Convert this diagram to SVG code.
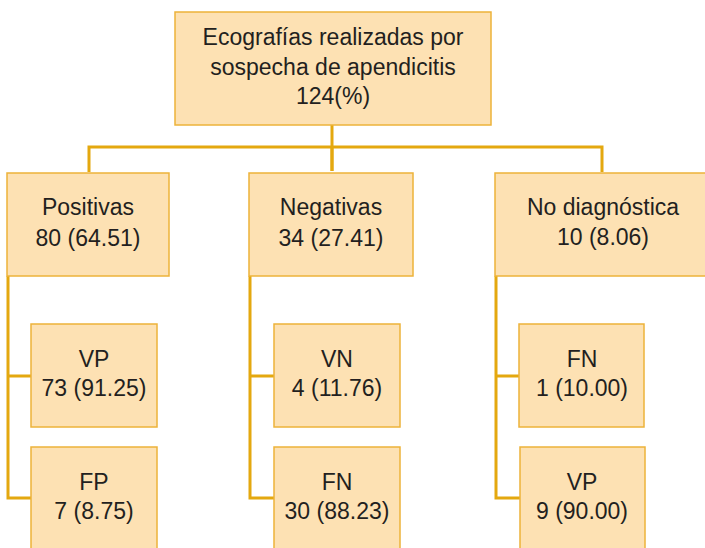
<svg xmlns="http://www.w3.org/2000/svg" width="705" height="548" viewBox="0 0 705 548">
<style>
.box{fill:#FDE1B3;stroke:#EDB33A;stroke-width:1.5}
.ln{fill:none;stroke:#E4A80F;stroke-width:3}
text{font-family:"Liberation Sans",Arial,sans-serif;font-size:23px;fill:#231F20;text-anchor:middle}
</style>
<rect width="705" height="548" fill="#fff"/>
<g id="connectors" class="ln">
<path d="M332,125V171"/>
<path d="M89,172V147H602V172"/>
<path d="M332,147V171"/>
<path d="M8,276V498H31M8,376H31"/>
<path d="M250,276V498H274M250,376H274"/>
<path d="M496,276V498H520M496,376H519"/>
</g>
<g id="root"><rect class="box" x="175" y="12" width="316" height="113"/>
<text x="333" y="45">Ecografías realizadas por</text>
<text x="333" y="75">sospecha de apendicitis</text>
<text x="333" y="104">124(%)</text></g>
<g id="positivas"><rect class="box" x="7" y="173" width="162" height="103"/>
<text x="88" y="215">Positivas</text><text x="88" y="246">80 (64.51)</text></g>
<g id="negativas"><rect class="box" x="249" y="173" width="164" height="103"/>
<text x="331" y="215">Negativas</text><text x="331" y="246">34 (27.41)</text></g>
<g id="nodiag"><rect class="box" x="495" y="173" width="212" height="103"/>
<text x="603" y="215">No diagnóstica</text><text x="603" y="245">10 (8.06)</text></g>
<g id="vp1"><rect class="box" x="31" y="324" width="126" height="103"/>
<text x="94" y="367">VP</text><text x="94" y="396">73 (91.25)</text></g>
<g id="fp"><rect class="box" x="31" y="447" width="126" height="105"/>
<text x="94" y="490">FP</text><text x="94" y="519">7 (8.75)</text></g>
<g id="vn"><rect class="box" x="274" y="324" width="126" height="103"/>
<text x="337" y="367">VN</text><text x="337" y="396">4 (11.76)</text></g>
<g id="fn1"><rect class="box" x="274" y="447" width="126" height="105"/>
<text x="337" y="490">FN</text><text x="337" y="519">30 (88.23)</text></g>
<g id="fn2"><rect class="box" x="519" y="324" width="125" height="103"/>
<text x="582" y="367">FN</text><text x="582" y="396">1 (10.00)</text></g>
<g id="vp2"><rect class="box" x="520" y="447" width="125" height="105"/>
<text x="582" y="490">VP</text><text x="582" y="519">9 (90.00)</text></g>
</svg>
